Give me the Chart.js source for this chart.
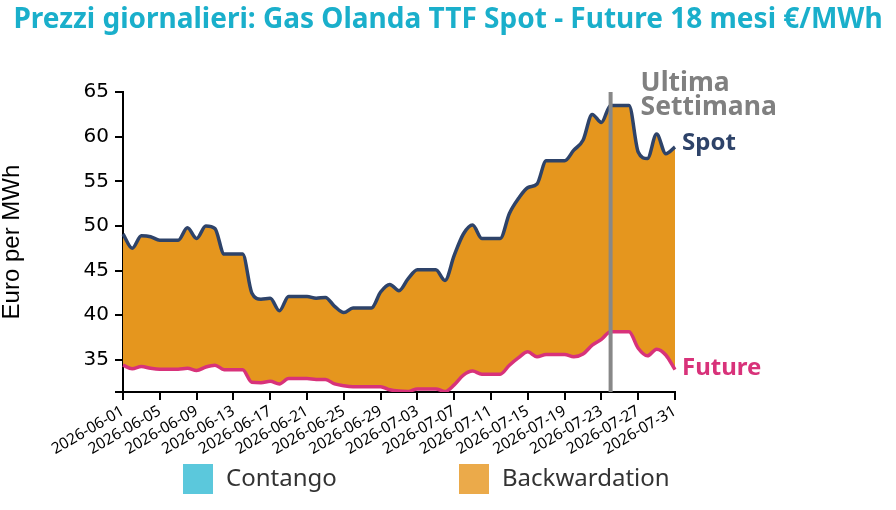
<!DOCTYPE html>
<html>
<head>
<meta charset="utf-8">
<script src="https://cdn.jsdelivr.net/npm/chart.js@4"></script>
<style>
  html, body { margin: 0; padding: 0; background: #fff; }
  #wrap { width: 896px; height: 510px; }
</style>
</head>
<body>
<div id="wrap"><canvas id="gasChart" width="896" height="510"></canvas></div>
<script>
const dates = [
  '2026-06-01', '2026-06-02', '2026-06-03', '2026-06-04', '2026-06-05', '2026-06-06', '2026-06-07', '2026-06-08',
  '2026-06-09', '2026-06-10', '2026-06-11', '2026-06-12', '2026-06-13', '2026-06-14', '2026-06-15', '2026-06-16',
  '2026-06-17', '2026-06-18', '2026-06-19', '2026-06-20', '2026-06-21', '2026-06-22', '2026-06-23', '2026-06-24',
  '2026-06-25', '2026-06-26', '2026-06-27', '2026-06-28', '2026-06-29', '2026-06-30', '2026-07-01', '2026-07-02',
  '2026-07-03', '2026-07-04', '2026-07-05', '2026-07-06', '2026-07-07', '2026-07-08', '2026-07-09', '2026-07-10',
  '2026-07-11', '2026-07-12', '2026-07-13', '2026-07-14', '2026-07-15', '2026-07-16', '2026-07-17', '2026-07-18',
  '2026-07-19', '2026-07-20', '2026-07-21', '2026-07-22', '2026-07-23', '2026-07-24', '2026-07-25', '2026-07-26',
  '2026-07-27', '2026-07-28', '2026-07-29', '2026-07-30', '2026-07-31'
];

// prezzo spot (€/MWh)
const spot = [
  49.1, 47.5, 48.9, 48.8, 48.4, 48.4, 48.4, 49.8, 48.6, 50.0, 49.7, 46.85, 46.85, 46.85, 42.5, 41.8,
  41.9, 40.5, 42.1, 42.1, 42.1, 41.9, 42.0, 41.0, 40.3, 40.8, 40.8, 40.8, 42.6, 43.45, 42.75, 44.1,
  45.1, 45.1, 45.1, 43.9, 46.7, 49.1, 50.1, 48.6, 48.6, 48.6, 51.4, 53.1, 54.3, 54.7, 57.3, 57.3,
  57.3, 58.5, 59.6, 62.5, 61.6, 63.5, 63.5, 63.5, 58.3, 57.55, 60.3, 58.1, 58.85
];

// future 18 mesi (€/MWh)
const future = [
  34.4, 34.0, 34.25, 34.05, 33.95, 33.95, 33.95, 34.05, 33.8, 34.2, 34.4, 33.9, 33.9, 33.9, 32.5, 32.45,
  32.6, 32.3, 32.9, 32.9, 32.9, 32.8, 32.8, 32.3, 32.1, 32.0, 32.0, 32.0, 32.0, 31.65, 31.5, 31.45,
  31.75, 31.75, 31.75, 31.45, 32.2, 33.3, 33.75, 33.4, 33.4, 33.4, 34.4, 35.25, 35.9, 35.35, 35.6, 35.6,
  35.6, 35.35, 35.65, 36.65, 37.3, 38.15, 38.15, 38.15, 36.3, 35.45, 36.2, 35.55, 33.9
];

const yMin = 31.4;
const yMax = 65;
const yTicks = [35, 40, 45, 50, 55, 60, 65];
const lastWeekDate = '2026-07-24';
const legendItems = ['Contango', 'Backwardation'];

const orangeFill = '#E5961E';
const blueFill = '#5BC8DC';

const overlay = {
  id: 'overlay',
  afterDatasetsDraw(chart) {
    const { ctx, chartArea, scales } = chart;
    const x = scales.x.getPixelForValue(dates.indexOf(lastWeekDate));
    ctx.save();
    ctx.strokeStyle = '#888888';
    ctx.lineWidth = 4;
    ctx.beginPath();
    ctx.moveTo(x, chartArea.top);
    ctx.lineTo(x, chartArea.bottom);
    ctx.stroke();

    ctx.fillStyle = '#808080';
    ctx.font = 'bold 26.5px "Noto Sans"';
    ctx.textBaseline = 'alphabetic';
    ctx.textAlign = 'left';
    ctx.fillText('Ultima', x + 30, chartArea.top - 1);
    ctx.fillText('Settimana', x + 30, chartArea.top + 23);

    // series labels at the last point
    ctx.font = 'bold 24px "Noto Sans"';
    const n = dates.length - 1;
    ctx.fillStyle = '#2E4369';
    ctx.fillText('Spot', chartArea.right + 7, scales.y.getPixelForValue(spot[n]) + 3);
    ctx.fillStyle = '#D8327A';
    ctx.fillText('Future', chartArea.right + 7, scales.y.getPixelForValue(future[n]) + 5);
    ctx.restore();
  },
  afterDraw(chart) {
    const ctx = chart.ctx;
    const boxes = [[183, blueFill], [459, '#EBAA4A']];
    ctx.save();
    ctx.font = '24px "Noto Sans"';
    ctx.textBaseline = 'middle';
    ctx.textAlign = 'left';
    boxes.forEach(([bx, col], i) => {
      ctx.fillStyle = col;
      ctx.fillRect(bx, 464, 30, 30);
      ctx.fillStyle = '#333333';
      ctx.fillText(legendItems[i], bx + 43, 479);
    });
    ctx.restore();
  }
};

const ctxGas = document.getElementById('gasChart').getContext('2d');

let gasChart = new Chart(ctxGas, {
  type: 'line',
  data: {
    labels: dates,
    datasets: [{
      label: 'Spot',
      data: spot,
      borderColor: '#2E4369',
      borderWidth: 3.5,
      pointRadius: 0,
      cubicInterpolationMode: 'monotone',
      borderJoinStyle: 'round',
      fill: { target: 1, above: orangeFill, below: blueFill }
    }, {
      label: 'Future',
      data: future,
      borderColor: '#D8327A',
      borderWidth: 3.5,
      pointRadius: 0,
      cubicInterpolationMode: 'monotone',
      borderJoinStyle: 'round',
      fill: false
    }]
  },
  options: {
    responsive: false,
    animation: false,
    layout: { padding: 0 },
    plugins: {
      legend: { display: false },
      tooltip: { enabled: false },
      filler: { drawTime: 'beforeDatasetsDraw' },
      title: {
        display: true,
        text: 'Prezzi giornalieri: Gas Olanda TTF Spot - Future 18 mesi €/MWh',
        color: '#1AAFCB',
        font: { family: 'Noto Sans', size: 28, weight: 'bold' },
        padding: { top: 3.5, bottom: 55 }
      }
    },
    scales: {
      x: {
        border: { display: true, color: '#000', width: 2 },
        grid: {
          drawOnChartArea: false,
          drawTicks: true,
          tickLength: 8,
          lineWidth: 2,
          tickColor: c => (c.index % 4 === 0 ? '#000' : 'rgba(0,0,0,0)')
        },
        ticks: {
          autoSkip: false,
          minRotation: 30,
          maxRotation: 30,
          padding: 2,
          color: '#000',
          font: { family: 'Noto Sans', size: 15.5 },
          callback: (v, i) => (i % 4 === 0 ? dates[i] : '')
        },
        afterFit: s => { s.height = 118; }
      },
      y: {
        min: yMin,
        max: yMax,
        border: { display: true, color: '#000', width: 2 },
        grid: { drawOnChartArea: false, drawTicks: true, tickLength: 8, lineWidth: 2, tickColor: '#000' },
        afterBuildTicks: s => { s.ticks = [yMin, ...yTicks].map(v => ({ value: v })); },
        ticks: {
          padding: 6,
          color: '#000',
          font: { family: 'DejaVu Sans', size: 20 },
          callback: v => (yTicks.includes(v) ? String(v) : '')
        },
        title: {
          display: true,
          text: 'Euro per MWh',
          color: '#000',
          font: { family: 'Liberation Sans', size: 24, lineHeight: 1 },
          padding: { top: 0, bottom: 0 }
        },
        afterFit: s => { s.width = 123; }
      },
      yR: {
        position: 'right',
        display: true,
        grid: { display: false },
        border: { display: false },
        ticks: { display: false },
        afterFit: s => { s.width = 221; }
      }
    }
  },
  plugins: [overlay]
});
</script>
</body>
</html>
